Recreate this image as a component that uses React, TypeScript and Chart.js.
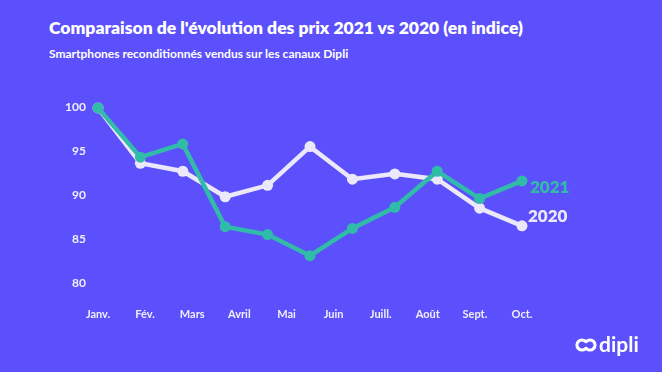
import React, { useEffect, useRef } from "react";
import { Chart, registerables } from "chart.js";

Chart.register(...registerables);

const monthLabels = ["Janv.", "Fév.", "Mars", "Avril", "Mai", "Juin", "Juill.", "Août", "Sept.", "Oct."];
const yTicks = [80, 85, 90, 95, 100];
const series2021 = [99.9, 94.3, 95.8, 86.4, 85.5, 83.1, 86.2, 88.6, 92.7, 89.6, 91.6];
const series2020 = [99.9, 93.6, 92.7, 89.8, 91.1, 95.5, 91.8, 92.4, 91.8, 88.5, 86.5];

const BG = "#5b50fb";
const GREEN = "#30bca8";
const WHITE = "#ebe8fb";
const TEXT = "#f1effd";

const endLabels = {
  id: "endLabels",
  afterDatasetsDraw(chart: any) {
    const ctx = chart.ctx;
    ctx.save();
    ctx.font = "800 17px Lato";
    ctx.textBaseline = "middle";
    ctx.textAlign = "left";
    const m0 = chart.getDatasetMeta(0);
    const p0 = m0.data[m0.data.length - 1];
    ctx.fillStyle = GREEN;
    ctx.fillText("2021", p0.x + 8, p0.y + 7);
    const m1 = chart.getDatasetMeta(1);
    const p1 = m1.data[m1.data.length - 1];
    ctx.fillStyle = WHITE;
    ctx.fillText("2020", p1.x + 6, p1.y - 9);
    ctx.restore();
  },
};

export default function App() {
  const ref = useRef<HTMLCanvasElement | null>(null);
  const iconRef = useRef<HTMLCanvasElement | null>(null);

  useEffect(() => {
    if (!ref.current) return;
    const chart = new Chart(ref.current, {
      type: "line",
      data: {
        datasets: [
          {
            label: "2021",
            data: series2021.map((v, i) => ({ x: i, y: v })),
            borderColor: GREEN,
            backgroundColor: GREEN,
            borderWidth: 4.5,
            pointRadius: 5.5,
            pointBorderWidth: 0,
            pointBackgroundColor: GREEN,
            tension: 0,
            clip: false as any,
          },
          {
            label: "2020",
            data: series2020.map((v, i) => ({ x: i, y: v })),
            borderColor: WHITE,
            backgroundColor: WHITE,
            borderWidth: 4.5,
            pointRadius: 5.5,
            pointBorderWidth: 0,
            pointBackgroundColor: WHITE,
            tension: 0,
            clip: false as any,
          },
        ],
      },
      options: {
        animation: false,
        responsive: false,
        maintainAspectRatio: false,
        layout: { padding: { top: 107, left: 0, right: 140, bottom: 0 } },
        plugins: { legend: { display: false }, tooltip: { enabled: false } },
        scales: {
          x: {
            type: "linear",
            min: 0,
            max: series2020.length - 1,
            border: { display: false },
            grid: { display: false, drawTicks: false },
            afterBuildTicks: (scale: any) => {
              const n = monthLabels.length;
              const max = series2020.length - 1;
              scale.ticks = monthLabels.map((_, i) => ({ value: (i * max) / (n - 1) }));
            },
            afterFit: (scale: any) => {
              scale.height = 372 - 283;
            },
            ticks: {
              padding: 25,
              color: TEXT,
              font: { family: "Lato", weight: "bold", size: 11 },
              maxRotation: 0,
              autoSkip: false,
              callback: (_v: any, i: number) => monthLabels[i],
            },
          },
          y: {
            min: yTicks[0],
            max: yTicks[yTicks.length - 1],
            border: { display: false },
            grid: { display: false, drawTicks: false },
            afterBuildTicks: (scale: any) => {
              scale.ticks = yTicks.map((v) => ({ value: v }));
            },
            afterFit: (scale: any) => {
              scale.width = 98;
            },
            ticks: {
              padding: 12,
              color: TEXT,
              font: { family: "Lato", weight: "bold", size: 12 },
            },
          },
        },
      },
      plugins: [endLabels],
    });
    return () => chart.destroy();
  }, []);

  useEffect(() => {
    const c = iconRef.current;
    if (!c) return;
    const ctx = c.getContext("2d");
    if (!ctx) return;
    ctx.clearRect(0, 0, 22, 20);
    ctx.strokeStyle = "#ffffff";
    ctx.lineWidth = 3.2;
    ctx.lineCap = "round";
    ctx.beginPath();
    ctx.arc(7, 10, 5, Math.PI * 0.25, Math.PI * 1.75);
    ctx.stroke();
    ctx.beginPath();
    ctx.arc(15, 10, 5, Math.PI * 1.25, Math.PI * 0.75);
    ctx.stroke();
  }, []);

  return (
    <div
      style={{
        position: "absolute",
        left: 0,
        top: 0,
        width: 662,
        height: 372,
        background: BG,
        overflow: "hidden",
        fontFamily: "Lato, sans-serif",
      }}
    >
      <div
        style={{
          position: "absolute",
          left: 49,
          top: 17,
          color: "#ffffff",
          fontWeight: 800,
          fontSize: 17.5,
          whiteSpace: "nowrap",
        }}
      >
        Comparaison de l'évolution des prix 2021 vs 2020 (en indice)
      </div>
      <div
        style={{
          position: "absolute",
          left: 49,
          top: 46,
          color: "#ffffff",
          fontWeight: 700,
          fontSize: 12,
          whiteSpace: "nowrap",
        }}
      >
        Smartphones reconditionnés vendus sur les canaux Dipli
      </div>
      <canvas ref={ref} width={662} height={372} style={{ position: "absolute", left: 0, top: 0 }} />
      <canvas ref={iconRef} width={22} height={20} style={{ position: "absolute", left: 575, top: 335 }} />
      <div
        style={{
          position: "absolute",
          left: 599,
          top: 331,
          color: "#ffffff",
          fontWeight: 700,
          fontSize: 21,
          whiteSpace: "nowrap",
        }}
      >
        dipli
      </div>
    </div>
  );
}
